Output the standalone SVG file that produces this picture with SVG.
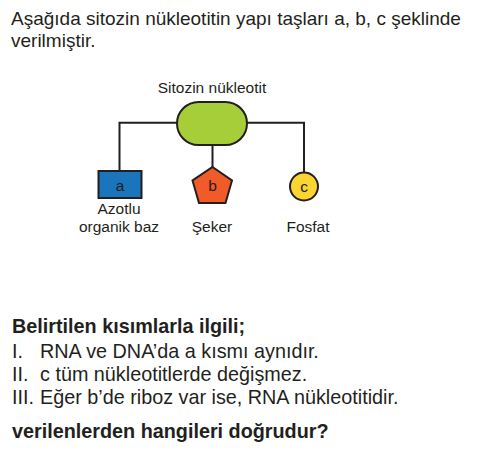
<svg xmlns="http://www.w3.org/2000/svg" width="494" height="459" viewBox="0 0 494 459">
<style>
text{font-family:"Liberation Sans",Arial,sans-serif;fill:#231f20}
.t{font-size:19px}
.q{font-size:19.8px}
.b{font-weight:bold}
.l{font-size:15.5px}
.c{stroke:#231f20;stroke-width:2;fill:none}
.s{stroke:#231f20;stroke-width:2}
</style>
<rect width="494" height="459" fill="#fff"/>
<text class="t" x="11" y="25">Aşağıda sitozin nükleotitin yapı taşları a, b, c şeklinde</text>
<text class="t" x="11" y="47">verilmiştir.</text>
<g id="connectors">
<path class="c" d="M119.5 171V122.8H177M247 122.8H304V172.5M212.5 145V167"/>
</g>
<g id="center">
<text class="l" x="212" y="93" text-anchor="middle">Sitozin nükleotit</text>
<rect class="s" x="177" y="102" width="70" height="43" rx="21.5" fill="#a6ce39"/>
</g>
<g id="a">
<rect class="s" x="98.5" y="171" width="43" height="27" fill="#1b75bc"/>
<text class="l" x="120" y="190.5" text-anchor="middle">a</text>
<text class="l" x="119" y="214" text-anchor="middle">Azotlu</text>
<text class="l" x="119" y="232" text-anchor="middle">organik baz</text>
</g>
<g id="b">
<polygon class="s" points="212.5,167 232,180.5 225.5,203 199,203 192.5,180.5" fill="#f15a29"/>
<text class="l" x="212.5" y="190.5" text-anchor="middle">b</text>
<text class="l" x="212" y="232" text-anchor="middle">Şeker</text>
</g>
<g id="c">
<circle class="s" cx="304" cy="186.5" r="14" fill="#f9d531"/>
<text class="l" x="304" y="191.5" text-anchor="middle">c</text>
<text class="l" x="308" y="232" text-anchor="middle">Fosfat</text>
</g>
<text class="q b" x="12" y="333">Belirtilen kısımlarla ilgili;</text>
<text class="q" x="12" y="358">I.</text>
<text class="q" x="40" y="358">RNA ve DNA’da a kısmı aynıdır.</text>
<text class="q" x="12" y="381">II.</text>
<text class="q" x="40" y="381">c tüm nükleotitlerde değişmez.</text>
<text class="q" x="12" y="404">III.</text>
<text class="q" x="40" y="404">Eğer b’de riboz var ise, RNA nükleotitidir.</text>
<text class="q b" x="12" y="438">verilenlerden hangileri doğrudur?</text>
</svg>
